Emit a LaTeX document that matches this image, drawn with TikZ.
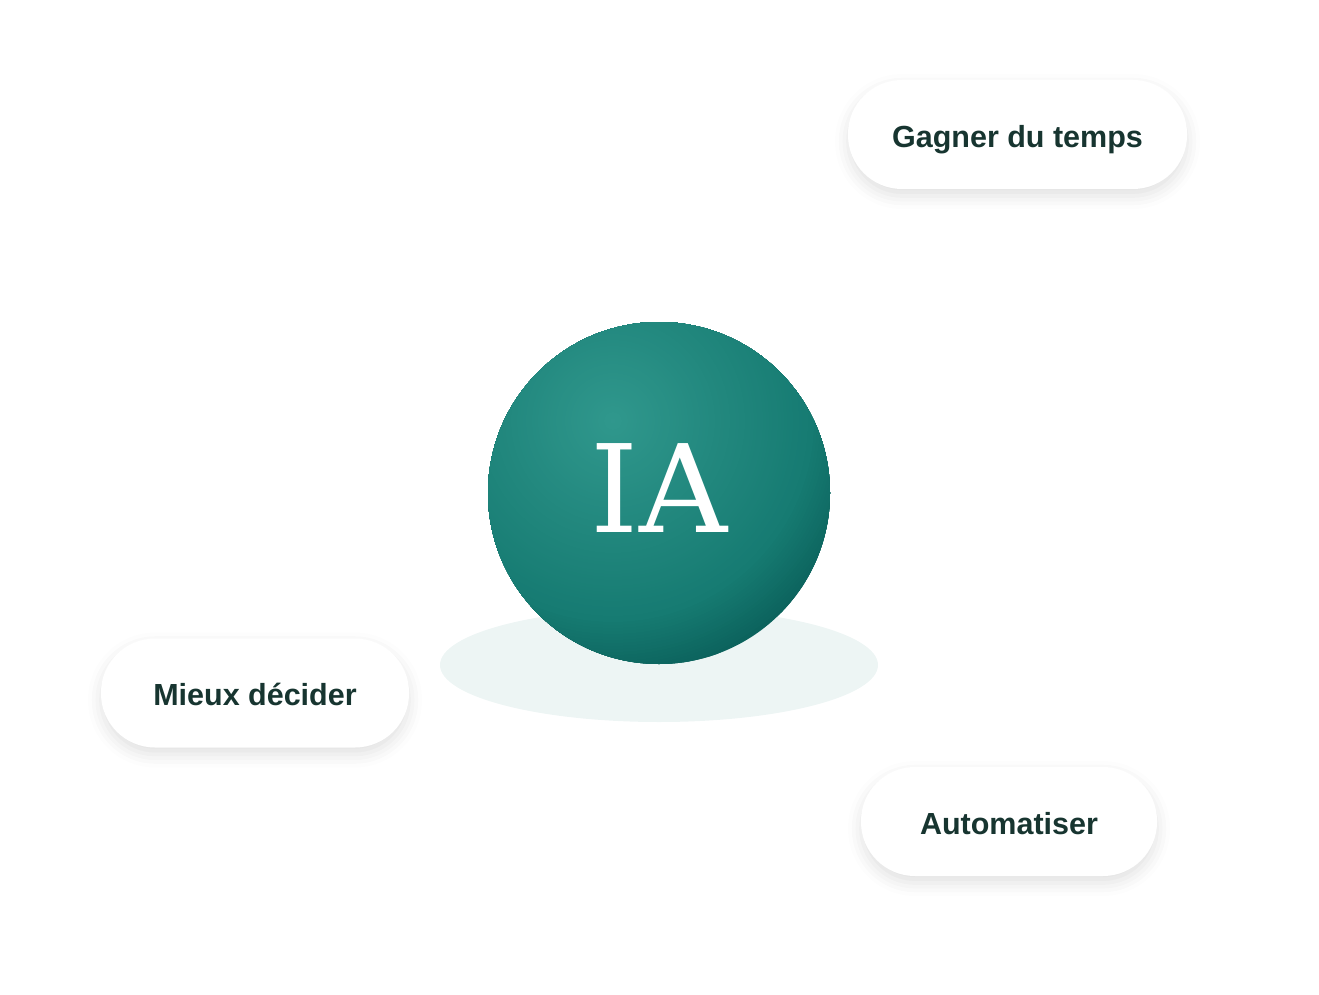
\documentclass[tikz,border=0pt]{standalone}
\usepackage{fontspec}
\setmainfont{Liberation Sans}
\newfontfamily\iafont{DejaVu Serif}
\usetikzlibrary{shadows.blur}

\definecolor{textgreen}{HTML}{173530}
\definecolor{floorgreen}{HTML}{EDF5F4}
\definecolor{balllight}{HTML}{30988D}
\definecolor{ballmid}{HTML}{23897F}
\definecolor{balledge}{HTML}{167B72}
\definecolor{balldark}{HTML}{0C635D}

\begin{document}
\begin{tikzpicture}[x=1pt,y=-1pt,
				pill/.style={rectangle,fill=white,rounded corners=54pt,
					minimum height=109pt,text=textgreen,
					text height=25.5pt,text depth=0pt,
					font=\fontsize{30.5}{36}\selectfont\bfseries,
					blur shadow={shadow xshift=0pt,shadow yshift=-7pt,
						shadow blur radius=13pt,shadow opacity=12}},
				core/.style={circle,minimum size=342pt,inner sep=0pt,
					text=white,text height=78pt,text depth=0pt,
					font=\iafont\fontsize{122}{130}\selectfont}]
\useasboundingbox (0,0) rectangle (1319,995);
\fill[floorgreen] (659,665) ellipse [x radius=219pt,y radius=57pt];
% ball: rings round the light spot, clipped to the circle
\coordinate (glow) at (613,421);
\begin{scope}
\clip (659,493) circle [radius=171pt];
\foreach \r in {258,255,...,0}{
	\ifdim\r pt<100pt
		\pgfmathtruncatemacro\p{\r}
		\colorlet{ringcol}{ballmid!\p!balllight}
	\else\ifdim\r pt<200pt
		\pgfmathtruncatemacro\p{\r-100}
		\colorlet{ringcol}{balledge!\p!ballmid}
	\else
		\pgfmathtruncatemacro\p{min(100,100*(\r-200)/56)}
		\colorlet{ringcol}{balldark!\p!balledge}
	\fi\fi
	\fill[ringcol] (glow) circle [radius=\r pt];
}
\end{scope}
\node[core] (ia) at (659,493) {IA};
\node[pill,minimum width=339pt] (temps) at (1017.5,134.5) {Gagner du temps};
\node[pill,minimum width=308pt] (decider) at (255,693) {Mieux décider};
\node[pill,minimum width=296pt] (auto) at (1009,821.5) {Automatiser};
\end{tikzpicture}
\end{document}
